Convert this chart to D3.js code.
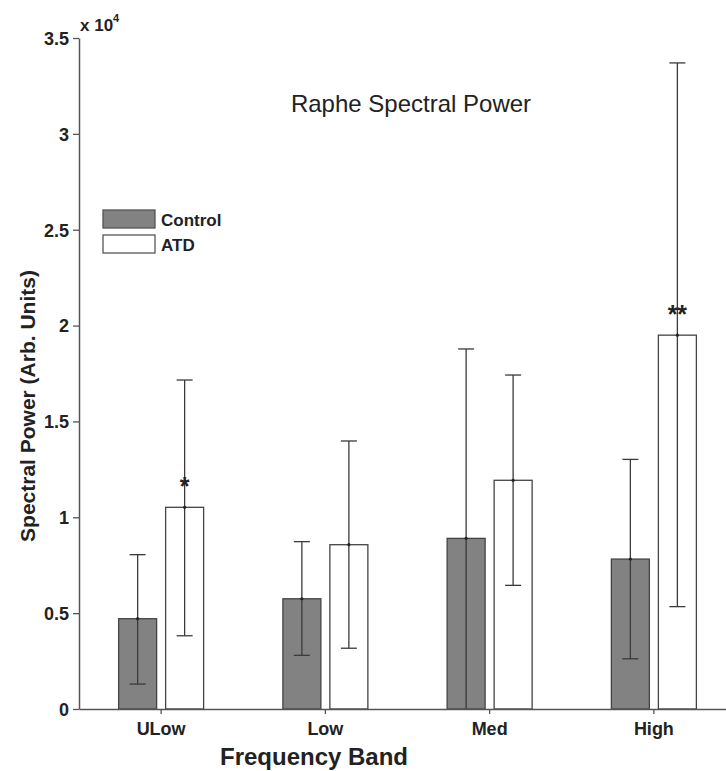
<!DOCTYPE html>
<html>
<head>
<meta charset="utf-8">
<script src="https://cdn.jsdelivr.net/npm/d3@7"></script>
<style>
body { margin: 0; background: #fff; }
svg text { font-family: Arial, "Liberation Sans", sans-serif; fill: #222; }
</style>
</head>
<body>
<svg id="chart" width="726" height="771"></svg>
<script>
/////////////// data ////////////////
const BANDS = ["ULow", "Low", "Med", "High"];
const GROUPS = ["Control", "ATD"];
// mean values (x 10^4)
const CONTROL_MEAN = [0.471, 0.575, 0.890, 0.782];
const ATD_MEAN = [1.052, 0.857, 1.193, 1.950];
// error bar ends (x 10^4)
const CONTROL_LO = [0.130, 0.280, 0.000, 0.262];
const CONTROL_HI = [0.805, 0.873, 1.878, 1.302];
const ATD_LO = [0.382, 0.317, 0.645, 0.534];
const ATD_HI = [1.716, 1.398, 1.742, 3.370];
const SIG_MARKS = ["*", "", "", "**"];
const Y_TICKS = [0, 0.5, 1, 1.5, 2, 2.5, 3, 3.5];

/////////////// layout ////////////////
const SVG = d3.select("#chart");
const X0 = 79;
const X1 = 736;
const Y_TOP = 38;
const Y_BASE = 709;
const BAR_W = 38;
const BAR_GAP = 4.5;
const CAP_W = 16;
const FILLS = { Control: "#828282", ATD: "#ffffff" };
const LINE_COL = "#3a3a3a";

const SCL_X = d3.scaleBand().domain(BANDS).range([X0, X1]);
const SCL_Y = d3.scaleLinear().domain([0, 3.5]).range([Y_BASE, Y_TOP]);

// build rows for every bar
const rows = [];
BANDS.forEach((b, i) => {
    rows.push({ band: b, grp: "Control", mean: CONTROL_MEAN[i], lo: CONTROL_LO[i], hi: CONTROL_HI[i], sig: "" });
    rows.push({ band: b, grp: "ATD", mean: ATD_MEAN[i], lo: ATD_LO[i], hi: ATD_HI[i], sig: SIG_MARKS[i] });
});
// bar center x
function barCx(d) {
    const c = SCL_X(d.band) + SCL_X.bandwidth() / 2;
    return d.grp == "Control" ? c - BAR_GAP - BAR_W / 2 : c + BAR_GAP + BAR_W / 2;
}

/////////////// bars ////////////////
const BAR_GRP = SVG.append("g").attr("id", "bars");
BAR_GRP.selectAll("rect")
    .data(rows)
    .enter()
    .append("rect")
    .attr("x", d => barCx(d) - BAR_W / 2)
    .attr("y", d => SCL_Y(d.mean))
    .attr("width", BAR_W)
    .attr("height", d => Y_BASE - SCL_Y(d.mean))
    .attr("fill", d => FILLS[d.grp])
    .attr("stroke", "#444")
    .attr("stroke-width", 1.3);

/////////////// error bars ////////////////
const ERR_GRP = SVG.append("g").attr("id", "errorBars")
    .attr("stroke", LINE_COL)
    .attr("stroke-width", 1.3);
ERR_GRP.selectAll("line.stem")
    .data(rows)
    .enter()
    .append("line")
    .attr("class", "stem")
    .attr("x1", barCx).attr("x2", barCx)
    .attr("y1", d => SCL_Y(d.lo))
    .attr("y2", d => SCL_Y(d.hi));
ERR_GRP.selectAll("line.capHi")
    .data(rows)
    .enter()
    .append("line")
    .attr("class", "capHi")
    .attr("x1", d => barCx(d) - CAP_W / 2).attr("x2", d => barCx(d) + CAP_W / 2)
    .attr("y1", d => SCL_Y(d.hi)).attr("y2", d => SCL_Y(d.hi));
ERR_GRP.selectAll("line.capLo")
    .data(rows.filter(d => d.lo > 0))
    .enter()
    .append("line")
    .attr("class", "capLo")
    .attr("x1", d => barCx(d) - CAP_W / 2).attr("x2", d => barCx(d) + CAP_W / 2)
    .attr("y1", d => SCL_Y(d.lo)).attr("y2", d => SCL_Y(d.lo));
SVG.append("g").selectAll("circle")
    .data(rows)
    .enter()
    .append("circle")
    .attr("cx", barCx)
    .attr("cy", d => SCL_Y(d.mean))
    .attr("r", 1.6)
    .attr("fill", "#222");

/////////////// significance marks ////////////////
SVG.append("g").selectAll("text")
    .data(rows.filter(d => d.sig != ""))
    .enter()
    .append("text")
    .attr("x", barCx)
    .attr("y", d => SCL_Y(d.mean) - 12)
    .attr("text-anchor", "middle")
    .attr("font-size", 25)
    .attr("font-weight", "bold")
    .text(d => d.sig);

/////////////// axes ////////////////
const Y_AXIS = SVG.append("g")
    .attr("transform", `translate(${X0}, 0)`)
    .call(d3.axisLeft(SCL_Y).tickValues(Y_TICKS).tickFormat(d => d).tickSize(6).tickSizeOuter(0));
const X_AXIS = SVG.append("g")
    .attr("transform", `translate(0, ${Y_BASE})`)
    .call(d3.axisBottom(SCL_X).tickSize(5).tickSizeOuter(0).tickPadding(8));
[Y_AXIS, X_AXIS].forEach(ax => {
    ax.select(".domain").attr("stroke", "#555").attr("stroke-width", 1.5);
    ax.selectAll(".tick line").attr("stroke", "#555").attr("stroke-width", 1.3);
    ax.selectAll(".tick text")
        .attr("fill", "#222")
        .attr("font-family", "Arial, 'Liberation Sans', sans-serif")
        .attr("font-weight", "bold")
        .attr("font-size", 18);
});
Y_AXIS.selectAll(".tick text").attr("dy", "0.35em").attr("x", -10);

// exponent label
const EXP = SVG.append("text")
    .attr("x", 80)
    .attr("y", 31)
    .attr("font-size", 17)
    .attr("font-weight", "bold");
EXP.append("tspan").text("x 10");
EXP.append("tspan").attr("dy", -9).attr("font-size", 11).text("4");

/////////////// labels ////////////////
SVG.append("text")
    .attr("x", 411)
    .attr("y", 112)
    .attr("text-anchor", "middle")
    .attr("font-size", 24)
    .text("Raphe Spectral Power");
SVG.append("text")
    .attr("transform", "translate(35, 406) rotate(-90)")
    .attr("text-anchor", "middle")
    .attr("font-size", 21)
    .attr("font-weight", "bold")
    .text("Spectral Power (Arb. Units)");
SVG.append("text")
    .attr("x", 314)
    .attr("y", 765)
    .attr("text-anchor", "middle")
    .attr("font-size", 24)
    .attr("font-weight", "bold")
    .text("Frequency Band");

/////////////// legend ////////////////
const LEGEND_GRP = SVG.append("g").attr("transform", "translate(103, 210)");
const LEGEND = LEGEND_GRP.selectAll("g")
    .data(GROUPS)
    .enter()
    .append("g")
    .attr("transform", (d, i) => `translate(0, ${i * 25})`);
LEGEND.append("rect")
    .attr("width", 52)
    .attr("height", 18)
    .attr("fill", d => FILLS[d])
    .attr("stroke", "#555")
    .attr("stroke-width", 1.3);
LEGEND.append("text")
    .attr("x", 58)
    .attr("y", 16)
    .attr("font-size", 17)
    .attr("font-weight", "bold")
    .text(d => d);
</script>
</body>
</html>
